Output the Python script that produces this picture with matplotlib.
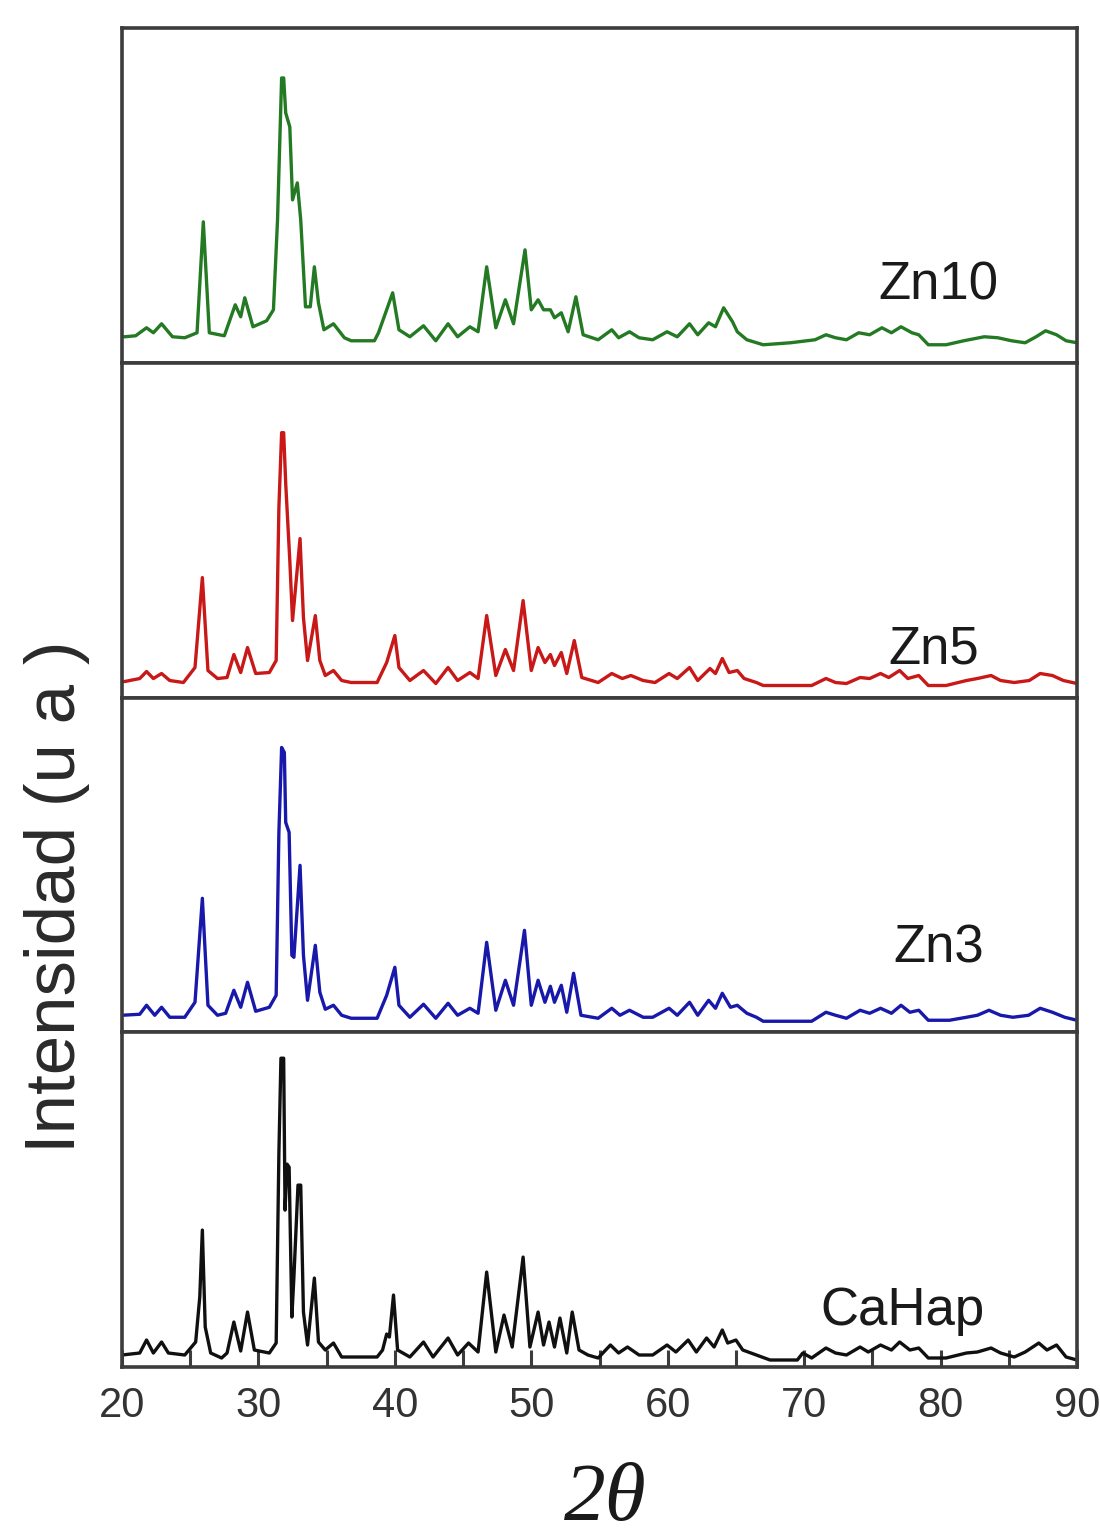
import matplotlib
matplotlib.use("Agg")
import matplotlib.pyplot as plt
from matplotlib.ticker import MultipleLocator

# ---------------- data (2theta, intensity in arbitrary units) ----------------
zn10_x = [20.0, 20.2, 21.0, 21.8, 22.3, 22.9, 23.7, 24.6, 25.5, 25.96, 26.4, 27.5, 28.3, 28.7,
          29.0, 29.6, 30.6, 31.1, 31.4, 31.7, 31.85, 32.0, 32.3, 32.5, 32.85, 33.1, 33.45, 33.8,
          34.1, 34.4, 34.8, 35.5, 36.3, 36.8, 38.5, 38.8, 39.4, 39.84, 40.3, 41.1, 42.1, 43.0,
          43.9, 44.6, 45.5, 46.1, 46.73, 47.4, 48.1, 48.7, 49.54, 50.0, 50.5, 50.9, 51.4, 51.7,
          52.2, 52.7, 53.27, 53.8, 54.9, 55.9, 56.4, 57.2, 57.9, 58.9, 59.95, 60.7, 61.6, 62.2,
          63.0, 63.5, 64.1, 64.75, 65.1, 65.8, 67.0, 69.0, 70.8, 71.6, 72.3, 73.1, 74.0, 74.8,
          75.7, 76.4, 77.1, 77.9, 78.4, 79.1, 80.4, 81.7, 83.2, 84.2, 85.2, 86.2, 87.0, 87.7,
          88.5, 89.2, 90.0]
zn10_y = [26, 26, 27, 35, 30, 39, 26, 25, 30, 141, 30, 27, 58, 46,
          65, 36, 42, 53, 143, 285, 285, 250, 236, 163, 180, 143, 56, 56,
          96, 60, 33, 39, 25, 22, 22, 30, 53, 70, 33, 26, 37, 22,
          39, 26, 36, 31, 96, 35, 63, 39, 113, 53, 63, 53, 53, 45,
          50, 31, 66, 28, 23, 33, 25, 31, 25, 23, 31, 26, 39, 28,
          40, 36, 55, 41, 31, 23, 18, 20, 23, 28, 25, 23, 30, 28,
          35, 30, 36, 30, 28, 18, 18, 22, 26, 25, 22, 20, 26, 32,
          28, 22, 20]

zn5_x = [20.0, 20.2, 21.3, 21.8, 22.3, 22.9, 23.5, 24.5, 25.35, 25.89, 26.3, 27.0, 27.7, 28.2,
         28.7, 29.2, 29.8, 30.8, 31.3, 31.5, 31.7, 31.85, 32.0, 32.3, 32.5, 33.05, 33.3, 33.6,
         34.17, 34.5, 34.9, 35.5, 36.1, 36.8, 38.7, 39.4, 40.0, 40.3, 41.1, 42.1, 43.0, 43.9,
         44.6, 45.5, 46.1, 46.73, 47.4, 48.1, 48.7, 49.4, 50.0, 50.5, 51.0, 51.4, 51.7, 52.2,
         52.6, 53.15, 53.7, 54.9, 55.9, 56.67, 57.3, 58.2, 59.07, 60.1, 60.7, 61.6, 62.2, 63.1,
         63.5, 64.0, 64.5, 65.1, 65.6, 66.5, 67.0, 70.55, 71.6, 72.3, 73.1, 74.1, 74.8, 75.6,
         76.2, 77.0, 77.6, 78.4, 79.1, 80.4, 81.9, 82.7, 83.7, 84.4, 85.4, 86.5, 87.3, 88.2,
         89.0, 90.0]
zn5_y = [16, 16, 19, 26, 19, 24, 17, 15, 30, 120, 27, 19, 20, 43,
         25, 50, 24, 25, 37, 190, 265, 265, 214, 137, 77, 159, 80, 37,
         82, 37, 22, 27, 17, 15, 15, 35, 62, 30, 17, 27, 14, 30,
         17, 25, 19, 82, 22, 48, 27, 97, 27, 50, 35, 43, 32, 45,
         24, 57, 20, 15, 24, 19, 22, 17, 15, 24, 19, 30, 17, 29,
         24, 39, 25, 27, 19, 15, 12, 12, 19, 15, 14, 20, 19, 24,
         20, 27, 19, 22, 12, 12, 17, 19, 22, 17, 15, 17, 24, 22,
         17, 14]

zn3_x = [20.0, 21.3, 21.8, 22.4, 22.9, 23.5, 24.6, 25.35, 25.89, 26.3, 27.0, 27.6, 28.2, 28.7,
         29.2, 29.8, 30.8, 31.3, 31.5, 31.7, 31.9, 32.0, 32.25, 32.45, 32.6, 33.05, 33.3, 33.6,
         34.17, 34.5, 34.9, 35.5, 36.1, 36.8, 38.7, 39.4, 40.0, 40.3, 41.1, 42.1, 43.0, 43.9,
         44.6, 45.5, 46.1, 46.73, 47.4, 48.1, 48.7, 49.5, 50.0, 50.5, 51.0, 51.4, 51.7, 52.2,
         52.6, 53.1, 53.64, 54.9, 55.9, 56.5, 57.2, 58.2, 58.9, 60.1, 60.7, 61.6, 62.2, 63.0,
         63.5, 64.0, 64.6, 65.1, 65.8, 66.5, 67.0, 70.55, 71.6, 72.3, 73.1, 74.1, 74.8, 75.6,
         76.4, 77.1, 77.75, 78.4, 79.1, 80.65, 81.9, 82.7, 83.55, 84.4, 85.3, 86.45, 87.3, 88.2,
         89.1, 90.0]
zn3_y = [17, 18, 27, 17, 25, 15, 15, 30, 134, 27, 17, 19, 42, 25,
         50, 21, 25, 37, 200, 285, 280, 210, 200, 77, 75, 167, 77, 32,
         87, 40, 23, 27, 17, 14, 14, 37, 65, 27, 15, 28, 14, 29,
         17, 24, 19, 90, 22, 52, 27, 102, 27, 52, 30, 46, 30, 47,
         20, 59, 17, 14, 24, 17, 22, 15, 15, 24, 17, 30, 17, 32,
         24, 39, 25, 27, 19, 15, 11, 11, 20, 17, 14, 22, 19, 24,
         19, 27, 20, 22, 12, 12, 15, 17, 22, 17, 15, 17, 24, 20,
         15, 12]

cahap_x = [20.0, 21.3, 21.8, 22.3, 22.9, 23.4, 24.6, 25.4, 25.7, 25.89, 26.1, 26.5, 27.3, 27.7,
           28.2, 28.7, 29.2, 29.7, 30.8, 31.3, 31.5, 31.65, 31.85, 31.95, 32.1, 32.25, 32.45,
           32.6, 32.9, 33.1, 33.3, 33.6, 34.1, 34.4, 34.9, 35.5, 36.1, 36.8, 38.7, 39.1, 39.4,
           39.6, 39.9, 40.2, 41.1, 42.1, 42.8, 43.9, 44.6, 45.4, 46.1, 46.73, 47.4, 48.0, 48.6,
           49.4, 49.9, 50.5, 50.9, 51.3, 51.7, 52.1, 52.6, 53.0, 53.5, 54.15, 54.9, 55.8, 56.4,
           57.05, 57.9, 58.9, 59.95, 60.6, 61.5, 62.1, 62.85, 63.4, 64.0, 64.4, 65.0, 65.5, 66.5,
           67.5, 69.5, 69.9, 70.55, 71.6, 72.3, 73.1, 74.1, 74.7, 75.6, 76.4, 77.0, 77.75, 78.4,
           79.1, 80.4, 81.9, 82.7, 83.7, 84.4, 85.4, 86.2, 87.2, 87.8, 88.5, 89.2, 90.0]
cahap_y = [12, 14, 27, 14, 25, 14, 12, 25, 70, 137, 40, 14, 9, 14,
           45, 16, 55, 17, 14, 24, 214, 309, 309, 157, 203, 200, 50,
           90, 182, 182, 55, 22, 89, 25, 17, 24, 10, 10, 10, 17, 33,
           30, 72, 17, 10, 25, 10, 29, 12, 24, 15, 95, 15, 52, 20,
           110, 20, 55, 22, 45, 20, 49, 14, 55, 17, 12, 9, 22, 14,
           20, 12, 12, 22, 15, 27, 15, 29, 20, 37, 24, 27, 17, 12,
           7, 7, 14, 9, 19, 14, 12, 20, 15, 22, 17, 25, 17, 19,
           9, 9, 14, 15, 19, 14, 10, 15, 24, 17, 22, 10, 7]

series_names = ["Zn10", "Zn5", "Zn3", "CaHap"]
series_colors = ["#237a23", "#c81818", "#1818aa", "#101010"]
x_ticklabels = ["20", "30", "40", "50", "60", "70", "80", "90"]

# ---------------- figure ----------------
fig = plt.figure(figsize=(11.0, 15.36), dpi=100)
left, right = 122 / 1100, 1077 / 1100
top, bottom = 1 - 28 / 1536, 1 - 1367 / 1536
gs = fig.add_gridspec(4, 1, left=left, right=right, top=top, bottom=bottom, hspace=0)
axes = [fig.add_subplot(gs[i]) for i in range(4)]

data = [(zn10_x, zn10_y), (zn5_x, zn5_y), (zn3_x, zn3_y), (cahap_x, cahap_y)]
label_pos = [(0.855, 0.188), (0.850, 0.101), (0.855, 0.209), (0.817, 0.125)]

for ax, (xs, ys), name, col, (lx, ly) in zip(axes, data, series_names, series_colors, label_pos):
    ax.plot(xs, ys, color=col, lw=2.4, solid_joinstyle="round", solid_capstyle="round")
    ax.set_xlim(20, 90)
    ax.set_ylim(0, 335)
    ax.set_yticks([])
    for sp in ax.spines.values():
        sp.set_linewidth(2.6)
        sp.set_color("#3c3c3c")
    ax.text(lx, ly, name, transform=ax.transAxes, ha="center", va="baseline",
            fontsize=38, family=["Liberation Sans", "DejaVu Sans"], color="#1a1a1a")
    ax.tick_params(axis="x", which="both", bottom=False, top=False, labelbottom=False)

axb = axes[-1]
axb.set_xticks(range(20, 91, 10))
axb.set_xticklabels(x_ticklabels)
axb.xaxis.set_minor_locator(MultipleLocator(5))
axb.tick_params(axis="x", which="both", bottom=True, direction="in", length=12,
                width=2.2, color="#3c3c3c", labelbottom=True, pad=14,
                labelsize=30, labelcolor="#333333")
for lab in axb.get_xticklabels():
    lab.set_family(["Liberation Sans", "DejaVu Sans"])

fig.text(57 / 1100, 1 - 897 / 1536, "Intensidad (u a )", rotation=90, ha="center",
         va="center", fontsize=51, family=["Liberation Sans", "DejaVu Sans"], color="#2a2a2a")
fig.text(605 / 1100, 1 - 1500 / 1536, "2θ", ha="center", va="center", fontsize=60,
         family=["Liberation Serif", "DejaVu Serif"], style="italic", color="#1a1a1a")

fig.savefig("out.png", dpi=100, facecolor="white")
